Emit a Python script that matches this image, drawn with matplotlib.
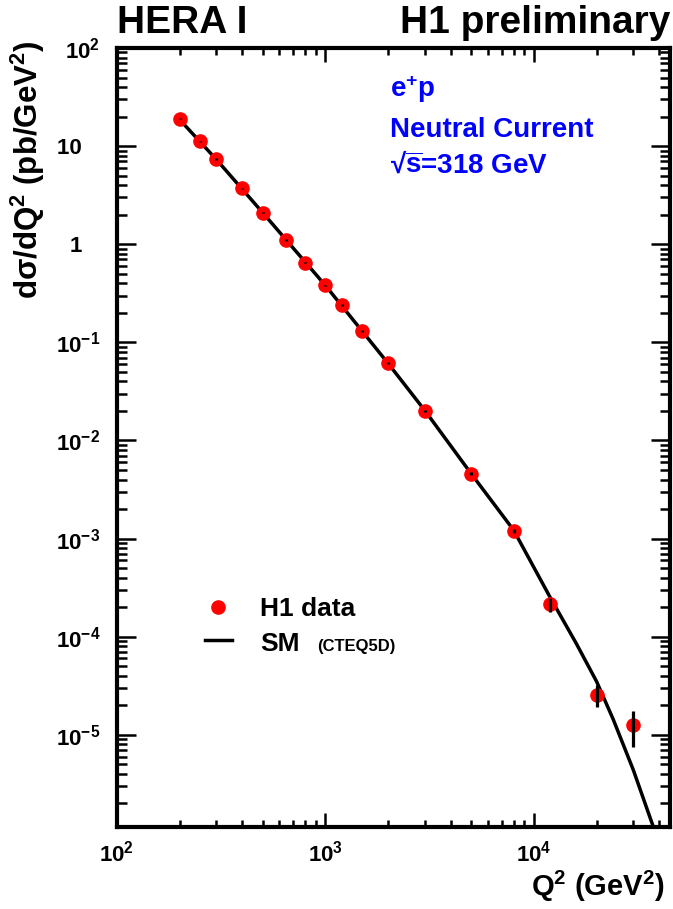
import matplotlib
matplotlib.use('Agg')
import matplotlib.pyplot as plt
from matplotlib.ticker import LogLocator, FixedLocator, FuncFormatter, NullFormatter
import numpy as np

plt.rcParams['font.family'] = ['Liberation Sans', 'DejaVu Sans']
plt.rcParams['font.weight'] = 'bold'
plt.rcParams['mathtext.fontset'] = 'custom'
plt.rcParams['mathtext.rm'] = 'Liberation Sans:bold'
plt.rcParams['mathtext.bf'] = 'Liberation Sans:bold'
plt.rcParams['mathtext.it'] = 'Liberation Sans:bold'
plt.rcParams['mathtext.sf'] = 'Liberation Sans:bold'
plt.rcParams['mathtext.default'] = 'regular'

# H1 NC e+p data points
q2_data = [200, 250, 300, 400, 500, 650, 800, 1000, 1200, 1500, 2000,
           3000, 5000, 8000, 12000, 20000, 30000]
xsec_data = [19.0, 11.2, 7.4, 3.7, 2.1, 1.1, 0.65, 0.38, 0.24, 0.13, 0.061,
             0.020, 0.0046, 0.0012, 2.15e-4, 2.56e-5, 1.25e-5]
xsec_err = [0.3, 0.2, 0.12, 0.06, 0.04, 0.02, 0.012, 0.007, 0.005, 0.003, 0.0015,
            0.0006, 0.00018, 0.00006, 0.35e-4, 0.65e-5, 0.5e-5]

# SM expectation (CTEQ5D)
q2_sm = [200, 300, 500, 1000, 2000, 3000, 5000, 8000, 12000, 16000,
         20000, 24000, 30000, 37300, 40000]
xsec_sm = [18.6, 7.3, 2.1, 0.38, 0.061, 0.0202, 0.0046, 0.00122, 2.5e-4, 8.5e-5,
           3.5e-5, 1.45e-5, 4.4e-6, 1.18e-6, 7.5e-7]

# labelled decades
x_major = [1e2, 1e3, 1e4]
y_major = [1e-5, 1e-4, 1e-3, 1e-2, 1e-1, 1, 10, 100]

fig = plt.figure(figsize=(6.73, 9.09), dpi=100)
ax = fig.add_axes([0.1738, 0.0902, 0.8217, 0.857])

ax.plot(q2_sm, xsec_sm, color='black', lw=2.5, zorder=2)
ax.plot(q2_data, xsec_data, 'o', color='red', markersize=9.5, mec='red', zorder=3)
ax.errorbar(q2_data, xsec_data, yerr=xsec_err, fmt='none', ecolor='black',
            elinewidth=2.3, capsize=0, zorder=4)

ax.set_xscale('log')
ax.set_yscale('log')
ax.set_xlim(100, 45000)
ax.set_ylim(1.15e-6, 100)

for s in ax.spines.values():
    s.set_linewidth(3)

ax.xaxis.set_major_locator(FixedLocator(x_major))
ax.xaxis.set_minor_locator(LogLocator(base=10, subs=np.arange(2, 10), numticks=20))
ax.yaxis.set_major_locator(FixedLocator(y_major))
ax.yaxis.set_minor_locator(LogLocator(base=10, subs=np.arange(2, 10), numticks=40))


def xfmt(v, pos):
    return r'$10^{%d}$' % int(round(np.log10(v)))


def yfmt(v, pos):
    e = int(round(np.log10(v)))
    if e == 0:
        return '1   '
    if e == 1:
        return '10   '
    return r'$10^{%d}$' % e


ax.xaxis.set_major_formatter(FuncFormatter(xfmt))
ax.yaxis.set_major_formatter(FuncFormatter(yfmt))
ax.xaxis.set_minor_formatter(NullFormatter())
ax.yaxis.set_minor_formatter(NullFormatter())

ax.tick_params(axis='both', which='both', direction='in', top=True, right=True, width=1.8)
ax.tick_params(axis='x', which='major', length=10, pad=10, labelsize=16)
ax.tick_params(axis='x', which='minor', length=5)
ax.tick_params(axis='y', which='major', length=14, pad=12, labelsize=16)
ax.tick_params(axis='y', which='minor', length=7)

# titles and axis labels
fig.text(0.174, 0.9637, 'HERA I', fontsize=28, ha='left', va='baseline')
fig.text(0.996, 0.9637, 'H1 preliminary', fontsize=28, ha='right', va='baseline')
fig.text(0.042, 0.956, r'd$\sigma$/dQ$^{2}$ (pb/GeV$^{2}$)', fontsize=22.5,
         rotation=90, ha='center', va='top')
fig.text(0.988, 0.014, r'Q$^{2}$ (GeV$^{2}$)', fontsize=21, ha='right', va='baseline')

ax.text(0.494, 0.937, r'e$^{+}$p', color='blue', fontsize=20, transform=ax.transAxes)
ax.text(0.494, 0.886, 'Neutral Current', color='blue', fontsize=20, transform=ax.transAxes)
ax.text(0.494, 0.8395, '\u221a$\\overline{s}$=318 GeV', color='blue', fontsize=20,
        transform=ax.transAxes)

# legend
ax.plot([0.183], [0.282], 'o', color='red', markersize=9.5, transform=ax.transAxes)
ax.plot([0.159, 0.208], [0.240, 0.240], color='black', lw=2.5, transform=ax.transAxes)
ax.text(0.2586, 0.271, 'H1 data', fontsize=19, transform=ax.transAxes, va='baseline')
ax.text(0.2586, 0.226, 'SM', fontsize=19, transform=ax.transAxes, va='baseline')
ax.text(0.3617, 0.226, '(CTEQ5D)', fontsize=12, transform=ax.transAxes, va='baseline')

fig.savefig('out.png', dpi=100)
